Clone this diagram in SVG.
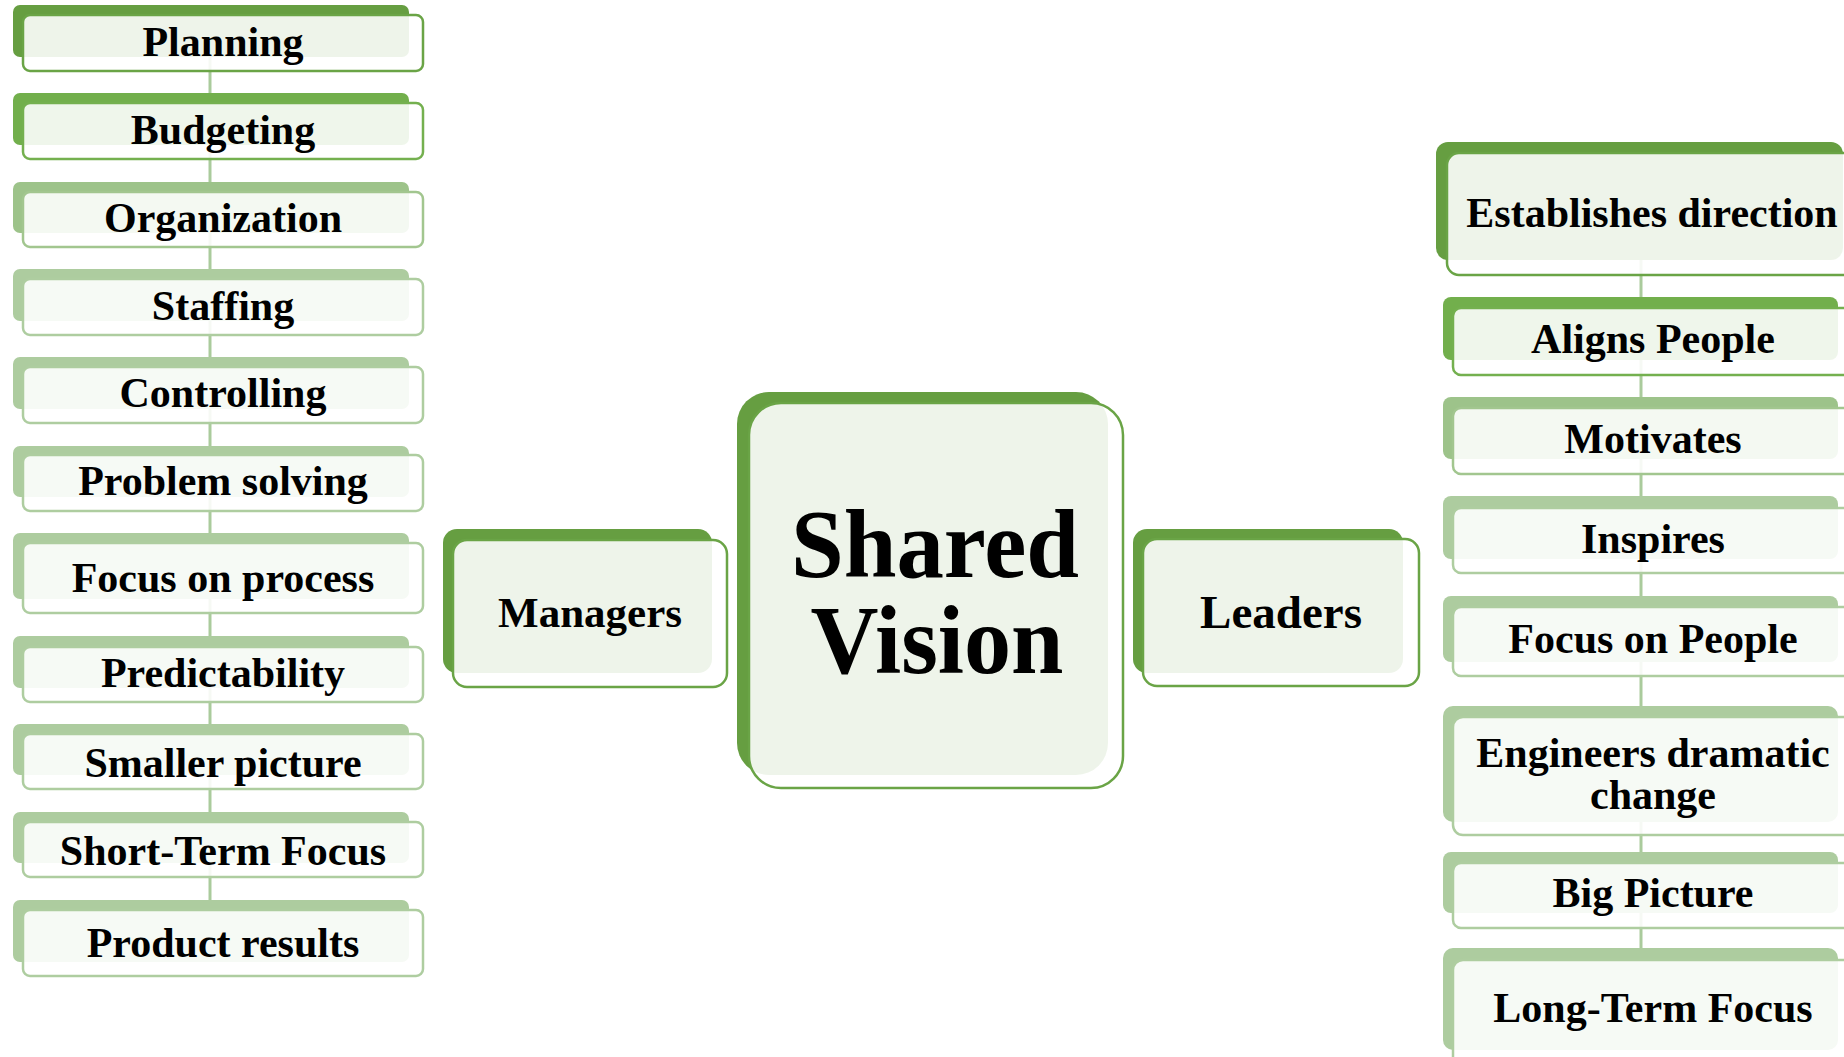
<svg xmlns="http://www.w3.org/2000/svg" width="1844" height="1057" viewBox="0 0 1844 1057">
<style>
.t{font-family:"Liberation Serif","Times New Roman",serif;font-weight:bold;fill:#000;text-anchor:middle;font-size:42px}
.big{font-size:98px}
.f{fill:#fff;fill-opacity:.89;stroke-width:2.5}
.b1{fill:#669E41}.b2{fill:#72AF4C}.b3{fill:#9DC38A}.b4{fill:#ADCC9F}
.s1{stroke:#6AA446}.s2{stroke:#74B04F}.s3{stroke:#A2C68F}.s4{stroke:#AECDA0}
.conn line{stroke:#AACB9C;stroke-width:3}
</style>
<rect width="1844" height="1057" fill="#fff"/>
<g id="connectors" class="conn">
<line x1="210" y1="57" x2="210" y2="93"/>
<line x1="210" y1="145" x2="210" y2="182"/>
<line x1="210" y1="233" x2="210" y2="269"/>
<line x1="210" y1="321" x2="210" y2="357"/>
<line x1="210" y1="409" x2="210" y2="446"/>
<line x1="210" y1="497" x2="210" y2="533"/>
<line x1="210" y1="599" x2="210" y2="636"/>
<line x1="210" y1="688" x2="210" y2="724"/>
<line x1="210" y1="775" x2="210" y2="812"/>
<line x1="210" y1="863" x2="210" y2="900"/>
<line x1="1641" y1="260" x2="1641" y2="297"/>
<line x1="1641" y1="360" x2="1641" y2="397"/>
<line x1="1641" y1="459" x2="1641" y2="496"/>
<line x1="1641" y1="559" x2="1641" y2="596"/>
<line x1="1641" y1="662" x2="1641" y2="706"/>
<line x1="1641" y1="822" x2="1641" y2="852"/>
<line x1="1641" y1="913" x2="1641" y2="948"/>
</g>
<g id="shared-vision">
<rect class="b1" x="737" y="392" width="371" height="383" rx="32"/>
<rect class="f s1" x="749" y="403" width="374" height="385" rx="32"/>
<text class="t big" x="935" y="577" textLength="288" lengthAdjust="spacingAndGlyphs">Shared</text>
<text class="t big" x="937" y="673" textLength="253" lengthAdjust="spacingAndGlyphs">Vision</text>
</g>
<g id="managers">
<rect class="b1" x="443" y="529" width="269" height="144" rx="14"/>
<rect class="f s1" x="453" y="540" width="274" height="147" rx="14"/>
<text class="t" x="590" y="627" style="font-size:43px">Managers</text>
</g>
<g id="leaders">
<rect class="b1" x="1133" y="529" width="270" height="144" rx="14"/>
<rect class="f s1" x="1143" y="539" width="276" height="147" rx="14"/>
<text class="t" x="1281" y="628" style="font-size:47px">Leaders</text>
</g>
<g id="planning"><rect class="b1" x="13" y="5" width="396" height="52" rx="7"/><rect class="f s1" x="23" y="15" width="400" height="56" rx="7"/><text class="t" x="223" y="56">Planning</text></g>
<g id="budgeting"><rect class="b2" x="13" y="93" width="396" height="52" rx="7"/><rect class="f s2" x="23" y="103" width="400" height="56" rx="7"/><text class="t" x="223" y="144">Budgeting</text></g>
<g id="organization"><rect class="b3" x="13" y="182" width="396" height="51" rx="7"/><rect class="f s3" x="23" y="192" width="400" height="55" rx="7"/><text class="t" x="223" y="232">Organization</text></g>
<g id="staffing"><rect class="b4" x="13" y="269" width="396" height="52" rx="7"/><rect class="f s4" x="23" y="279" width="400" height="56" rx="7"/><text class="t" x="223" y="320">Staffing</text></g>
<g id="controlling"><rect class="b4" x="13" y="357" width="396" height="52" rx="7"/><rect class="f s4" x="23" y="367" width="400" height="56" rx="7"/><text class="t" x="223" y="407">Controlling</text></g>
<g id="problem-solving"><rect class="b4" x="13" y="446" width="396" height="51" rx="7"/><rect class="f s4" x="23" y="455" width="400" height="56" rx="7"/><text class="t" x="223" y="495">Problem solving</text></g>
<g id="focus-on-process"><rect class="b4" x="13" y="533" width="396" height="66" rx="7"/><rect class="f s4" x="23" y="543" width="400" height="70" rx="7"/><text class="t" x="223" y="592">Focus on process</text></g>
<g id="predictability"><rect class="b4" x="13" y="636" width="396" height="52" rx="7"/><rect class="f s4" x="23" y="647" width="400" height="55" rx="7"/><text class="t" x="223" y="687">Predictability</text></g>
<g id="smaller-picture"><rect class="b4" x="13" y="724" width="396" height="51" rx="7"/><rect class="f s4" x="23" y="734" width="400" height="55" rx="7"/><text class="t" x="223" y="777">Smaller picture</text></g>
<g id="short-term-focus"><rect class="b4" x="13" y="812" width="396" height="51" rx="7"/><rect class="f s4" x="23" y="822" width="400" height="55" rx="7"/><text class="t" x="223" y="865">Short-Term Focus</text></g>
<g id="product-results"><rect class="b4" x="13" y="900" width="396" height="62" rx="7"/><rect class="f s4" x="23" y="910" width="400" height="66" rx="7"/><text class="t" x="223" y="957">Product results</text></g>
<g id="establishes-direction"><rect class="b1" x="1436" y="142" width="407" height="118" rx="12"/><rect class="f s1" x="1447" y="153" width="420" height="122" rx="12"/><text class="t" x="1652" y="227">Establishes direction</text></g>
<g id="aligns-people"><rect class="b2" x="1443" y="297" width="395" height="63" rx="8"/><rect class="f s2" x="1453" y="308" width="410" height="67" rx="8"/><text class="t" x="1653" y="353">Aligns People</text></g>
<g id="motivates"><rect class="b3" x="1443" y="397" width="395" height="62" rx="8"/><rect class="f s3" x="1453" y="408" width="410" height="66" rx="8"/><text class="t" x="1653" y="453">Motivates</text></g>
<g id="inspires"><rect class="b4" x="1443" y="496" width="395" height="63" rx="8"/><rect class="f s4" x="1453" y="508" width="410" height="65" rx="8"/><text class="t" x="1653" y="553">Inspires</text></g>
<g id="focus-on-people"><rect class="b4" x="1443" y="596" width="395" height="66" rx="8"/><rect class="f s4" x="1453" y="607" width="410" height="69" rx="8"/><text class="t" x="1653" y="653">Focus on People</text></g>
<g id="engineers-dramatic-change"><rect class="b4" x="1443" y="706" width="395" height="116" rx="10"/><rect class="f s4" x="1453" y="717" width="410" height="118" rx="10"/><text class="t" x="1653" y="767">Engineers dramatic</text><text class="t" x="1653" y="809">change</text></g>
<g id="big-picture"><rect class="b4" x="1443" y="852" width="395" height="61" rx="8"/><rect class="f s4" x="1453" y="863" width="410" height="65" rx="8"/><text class="t" x="1653" y="907">Big Picture</text></g>
<g id="long-term-focus"><rect class="b4" x="1443" y="948" width="395" height="102" rx="10"/><rect class="f s4" x="1453" y="960" width="410" height="110" rx="10"/><text class="t" x="1653" y="1022">Long-Term Focus</text></g>
</svg>
